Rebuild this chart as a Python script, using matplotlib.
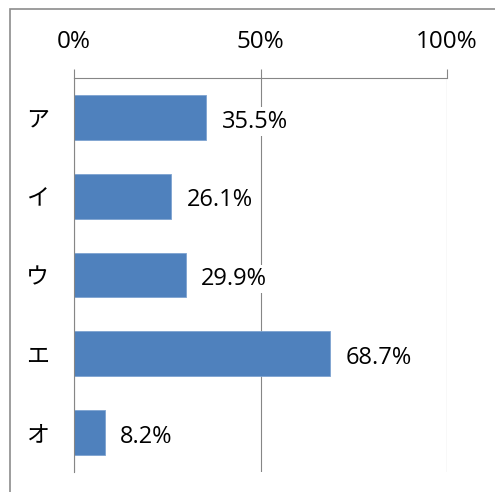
import matplotlib
matplotlib.use("Agg")
import matplotlib.pyplot as plt
from matplotlib.patches import Rectangle

categories = ["ア", "イ", "ウ", "エ", "オ"]
values = [35.5, 26.1, 29.9, 68.7, 8.2]
xticks = [0, 50, 100]
xticklabels = ["0%", "50%", "100%"]

plt.rcParams['font.family'] = ['Open Sans', 'Noto Sans CJK JP', 'DejaVu Sans']

W, H = 495, 492
fig = plt.figure(figsize=(W / 100, H / 100), dpi=100)
fig.patches.append(Rectangle((10 / W, -0.1), 1.2, 1 - 9 / H + 0.1, transform=fig.transFigure,
                             fill=False, edgecolor="#8c8c8c", linewidth=1.2, zorder=0))

ax = fig.add_axes([74 / W, 1 - 472 / H, (447 - 74) / W, (472 - 78) / H])
gray = "#868686"
ypos = list(range(len(categories)))
ax.barh(ypos, values, height=0.57, color="#4F81BD", edgecolor="#7ea3d0", linewidth=0.6, zorder=2)
ax.set_xlim(0, 100)
ax.set_ylim(len(categories) - 0.5, -0.5)
ax.set_yticks(ypos)
ax.set_yticklabels(categories, family=['Noto Sans CJK JP', 'DejaVu Sans'], fontsize=16.5)
ax.tick_params(axis='y', length=0, pad=18)
ax.xaxis.tick_top()
ax.set_xticks(xticks)
ax.set_xticklabels(xticklabels, fontsize=17.5)
ax.tick_params(axis='x', direction='out', length=6.5, width=0.8, color=gray, pad=11)
ax.grid(axis='x', color=gray, linewidth=0.8, zorder=1)
for s in ['bottom', 'right']:
    ax.spines[s].set_visible(False)
for s in ['top', 'left']:
    ax.spines[s].set_color(gray)
    ax.spines[s].set_linewidth(0.8)

for y, v in zip(ypos, values):
    ax.annotate(f"{v:.1f}%", xy=(v, y), xytext=(11, -3), textcoords='offset points',
                va='center', ha='left', fontsize=17,
                bbox=dict(facecolor='white', edgecolor='none', pad=1.5), zorder=3)

fig.savefig("out.png", dpi=100)
